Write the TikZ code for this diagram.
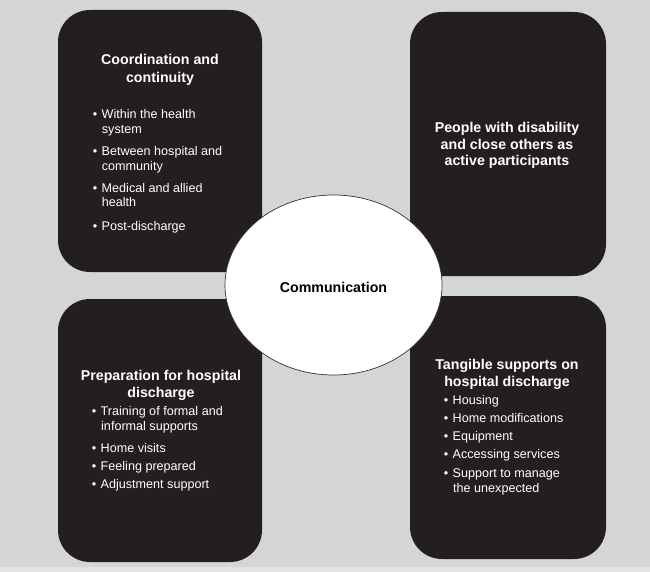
\documentclass[tikz,border=0pt]{standalone}
\usepackage{fontspec}
\setmainfont{Liberation Sans}
\definecolor{bg}{HTML}{D4D5D7}
\definecolor{boxfill}{HTML}{231F20}
\definecolor{strip}{HTML}{E2E3E4}
\begin{document}
\begin{tikzpicture}[x=1pt,y=-1pt,
  panel/.style={fill=boxfill, draw=none, rounded corners=32pt},
  ttl/.style={text=white, font=\fontsize{14.2}{17}\selectfont\bfseries, inner sep=0pt, anchor=base},
  itm/.style={text=white, font=\fontsize{12.6}{15}\selectfont, inner sep=0pt, anchor=base west},
  hub/.style={ellipse, draw=black!80, line width=0.7pt, fill=white, minimum width=217pt, minimum height=180pt, inner sep=0pt}
]
\usetikzlibrary{shapes.geometric}
\useasboundingbox (0,0) rectangle (650,572);
\fill[bg] (0,0) rectangle (650,572);
\fill[strip] (0,567) rectangle (650,572);

% panels
\fill[panel] (58,10) rectangle (262,272);
\fill[panel] (410,12) rectangle (606,276);
\fill[panel] (58,299) rectangle (262,562);
\fill[panel] (410,296) rectangle (606,559);

% centre
\node[hub] (hub) at (333.5,285) {};
\node[ttl, text=black] (comm) at (333.5,292) {Communication};

% top left
\node[ttl] (tlt1) at (160,65) {Coordination and};
\node[ttl] (tlt2) at (160,83) {continuity};
\node[itm] (tl1) at (92.6,119) {\textbullet\hspace{4.5pt}Within the health};
\node[itm] (tl1b) at (101.7,134) {system};
\node[itm] (tl2) at (92.6,156) {\textbullet\hspace{4.5pt}Between hospital and};
\node[itm] (tl2b) at (101.7,171) {community};
\node[itm] (tl3) at (92.6,193) {\textbullet\hspace{4.5pt}Medical and allied};
\node[itm] (tl3b) at (101.7,207) {health};
\node[itm] (tl4) at (92.6,230) {\textbullet\hspace{4.5pt}Post-discharge};

% top right
\node[ttl] (trt1) at (507,133) {People with disability};
\node[ttl] (trt2) at (507,149.5) {and close others as};
\node[ttl] (trt3) at (507,166) {active participants};

% bottom left
\node[ttl] (blt1) at (161,380) {Preparation for hospital};
\node[ttl] (blt2) at (161,397) {discharge};
\node[itm] (bl1) at (91.6,415.5) {\textbullet\hspace{4.5pt}Training of formal and};
\node[itm] (bl1b) at (101,430.5) {informal supports};
\node[itm] (bl2) at (91.6,452.5) {\textbullet\hspace{4.5pt}Home visits};
\node[itm] (bl3) at (91.6,470.5) {\textbullet\hspace{4.5pt}Feeling prepared};
\node[itm] (bl4) at (91.6,488.5) {\textbullet\hspace{4.5pt}Adjustment support};

% bottom right
\node[ttl] (brt1) at (507,369) {Tangible supports on};
\node[ttl] (brt2) at (507,386) {hospital discharge};
\node[itm] (br1) at (443.6,404.5) {\textbullet\hspace{4.5pt}Housing};
\node[itm] (br2) at (443.6,422.5) {\textbullet\hspace{4.5pt}Home modifications};
\node[itm] (br3) at (443.6,440.5) {\textbullet\hspace{4.5pt}Equipment};
\node[itm] (br4) at (443.6,458.5) {\textbullet\hspace{4.5pt}Accessing services};
\node[itm] (br5) at (443.6,477.5) {\textbullet\hspace{4.5pt}Support to manage};
\node[itm] (br5b) at (453,492.5) {the unexpected};
\end{tikzpicture}
\end{document}
